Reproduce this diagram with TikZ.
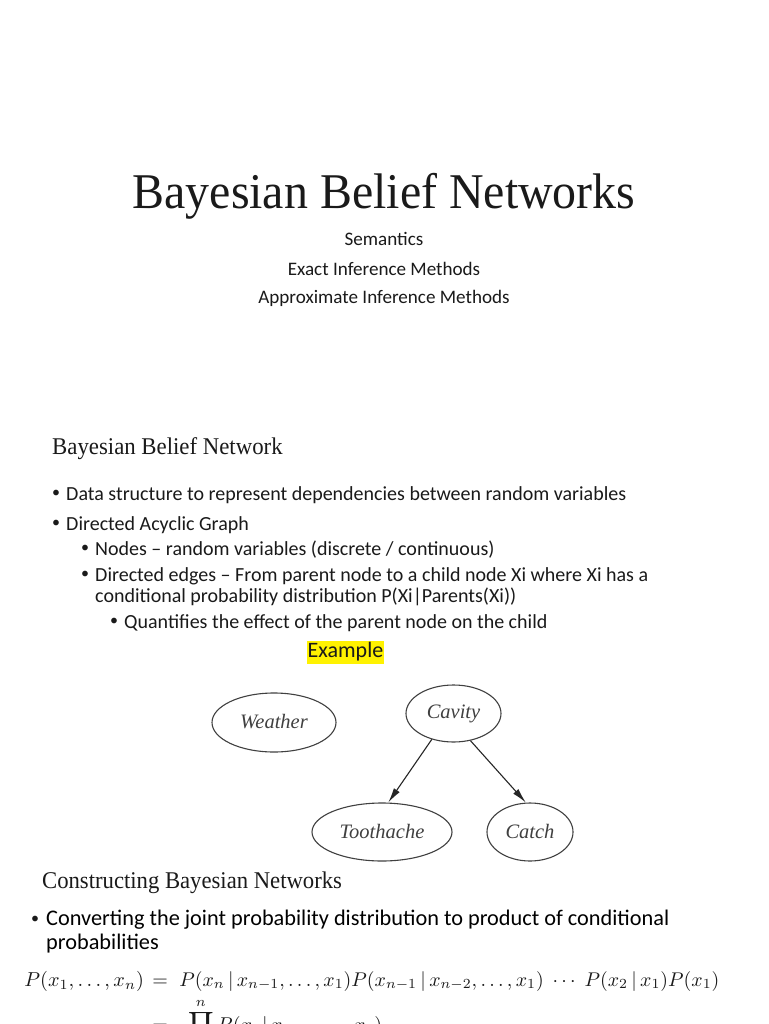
\documentclass[tikz,border=0pt]{standalone}
\usepackage{fontspec}
\usetikzlibrary{shapes.geometric,arrows.meta}
\setmainfont{Carlito}
\newfontfamily\timesf{Liberation Serif}
\definecolor{ink}{HTML}{1A1A1A}
\tikzset{
  serifhead/.style={anchor=base west,inner sep=0pt,text=ink,font=\timesf\fontsize{#1}{#1}\selectfont},
  body/.style={anchor=base west,inner sep=0pt,text=ink,font=\fontsize{#1}{#1}\selectfont},
  centred/.style={anchor=base,inner sep=0pt,text=ink,font=\fontsize{19.1}{20}\selectfont},
  bul/.style={anchor=base,inner sep=0pt,text=ink,font=\fontsize{#1}{#1}\selectfont},
  net/.style={ellipse,draw=black!75,line width=1.1pt,inner sep=0pt,text=black!75,font=\timesf\itshape\fontsize{20.5}{20.5}\selectfont},
  link/.style={draw=black!85,line width=1.1pt,-{Latex[length=15pt,width=7pt]}},
  formula/.style={anchor=base west,inner sep=0pt,text=ink,scale=#1}
}
\begin{document}
\begin{tikzpicture}[x=1pt,y=-1pt]
\useasboundingbox (0,0) rectangle (768,1024);
\clip (0,0) rectangle (768,1024);
\fill[white] (0,0) rectangle (768,1024);
% Title slide
\node[serifhead=50,anchor=base,xscale=0.958] (title) at (384,209) {Bayesian Belief Networks};
\node[centred] (s1) at (384,245.5) {Semantics};
\node[centred] (s2) at (384,275) {Exact Inference Methods};
\node[centred] (s3) at (384,303.5) {Approximate Inference Methods};
% Second slide
\node[serifhead=24,xscale=0.95] (h2) at (52,454.5) {Bayesian Belief Network};
\node[bul=16] (b1) at (56,497) {•};
\node[body=20] (t1) at (66,500) {Data structure to represent dependencies between random variables};
\node[bul=16] (b2) at (56,527) {•};
\node[body=20] (t2) at (66,530) {Directed Acyclic Graph};
\node[bul=16] (b3) at (85,552) {•};
\node[body=20] (t3) at (95,555) {Nodes – random variables (discrete / continuous)};
\node[bul=16] (b4) at (85,578) {•};
\node[body=20] (t4) at (95,581) {Directed edges – From parent node to a child node Xi where Xi has a};
\node[body=20] (t4b) at (95,602) {conditional probability distribution P(Xi|Parents(Xi))};
\node[bul=16] (b5) at (114,625) {•};
\node[body=20] (t5) at (124,628) {Quantifies the effect of the parent node on the child};
\node[anchor=center,fill=yellow,inner sep=0pt,minimum width=77pt,minimum height=23pt,text=ink,font=\fontsize{22}{22}\selectfont] (ex) at (345.5,652) {Example};
% Network
\node[net,minimum width=124pt,minimum height=59pt] (weather) at (274,722.5) {\raisebox{2pt}{Weather}};
\node[net,minimum width=95pt,minimum height=57pt] (cavity) at (453.5,713.5) {\raisebox{-3pt}{Cavity}};
\node[net,minimum width=140pt,minimum height=58pt] (toothache) at (382,832) {\raisebox{1pt}{Toothache}};
\node[net,minimum width=86pt,minimum height=58pt] (catch) at (530,832) {\raisebox{1pt}{Catch}};
\draw[link] (cavity.230) -- (toothache.78);
\draw[link] (cavity.302) -- (catch.98);
% Third slide
\node[serifhead=24,xscale=0.945] (h3) at (42,888.5) {Constructing Bayesian Networks};
\node[bul=16] (b6) at (35,923) {•};
\node[body=22.3,text=black] (t6) at (46,925) {Converting the joint probability distribution to product of conditional};
\node[body=22.3,text=black] (t6b) at (46,949) {probabilities};
\node[formula=2.02] (f1) at (24,986) {$P(x_1,\ldots,x_n)$};
\node[formula=2.0] (f2) at (152,986) {$=$};
\node[formula=1.985] (f3) at (179,986) {$P(x_n\,|\,x_{n-1},\ldots,x_1)P(x_{n-1}\,|\,x_{n-2},\ldots,x_1)\;\cdots\;P(x_2\,|\,x_1)P(x_1)$};
\node[formula=2.0] (f4) at (152,1031) {$=\;\;\,\displaystyle\prod_{i=1}^{n}P(x_i\,|\,x_{i-1},\ldots,x_1)$};
\end{tikzpicture}
\end{document}
